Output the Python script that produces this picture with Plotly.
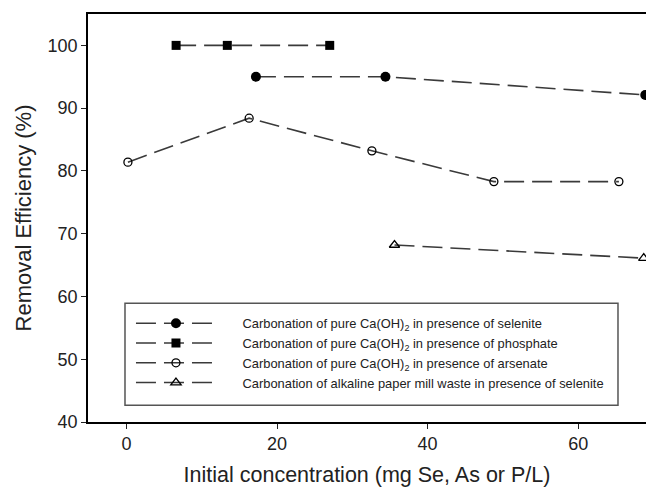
import plotly.graph_objects as go

# Data
selenite_x = [17.2, 34.4, 68.9]
selenite_y = [95.0, 95.0, 92.1]

phosphate_x = [6.6, 13.4, 27.0]
phosphate_y = [100.0, 100.0, 100.0]

arsenate_x = [0.2, 16.3, 32.6, 48.8, 65.4]
arsenate_y = [81.4, 88.4, 83.2, 78.3, 78.3]

mill_x = [35.6, 68.7]
mill_y = [68.2, 66.1]

names = [
    "Carbonation of pure Ca(OH)<sub>2</sub> in presence of selenite",
    "Carbonation of pure Ca(OH)<sub>2</sub> in presence of phosphate",
    "Carbonation of pure Ca(OH)<sub>2</sub> in presence of arsenate",
    "Carbonation of alkaline paper mill waste in presence of selenite",
]

x_ticks = [0, 20, 40, 60]
y_ticks = [40, 50, 60, 70, 80, 90, 100]

LINE_COLOR = "#3a3a3a"
DASH = "20px,8px"
PAD = "&nbsp;" * 6

fig = go.Figure()

series = [
    (selenite_x, selenite_y, dict(symbol="circle", size=10, color="black"), names[0]),
    (phosphate_x, phosphate_y, dict(symbol="square", size=9, color="black"), names[1]),
    (arsenate_x, arsenate_y, dict(symbol="circle-open", size=8, color="black", line=dict(width=1.3, color="black")), names[2]),
    (mill_x, mill_y, dict(symbol="triangle-up-open", size=9, color="black", line=dict(width=1.3, color="black")), names[3]),
]

for xs, ys, mk, nm in series:
    fig.add_trace(go.Scatter(
        x=xs, y=ys, mode="lines+markers", name=PAD + nm,
        line=dict(color=LINE_COLOR, width=1.6, dash=DASH),
        marker=mk,
    ))

# legend frame
fig.add_shape(type="rect", xref="paper", yref="paper",
              x0=0.0663, x1=0.9498, y0=0.041, y1=0.2911,
              line=dict(color="#555", width=1.5), fillcolor="rgba(0,0,0,0)")

fig.update_layout(
    width=646, height=487,
    margin=dict(l=88, r=0, t=14, b=65),
    paper_bgcolor="white", plot_bgcolor="white",
    font=dict(family="Liberation Sans, Arial, sans-serif", color="#222"),
    showlegend=True,
    legend=dict(
        x=0.077, y=0.2785, xanchor="left", yanchor="top",
        borderwidth=0,
        font=dict(size=12.9, color="#222"),
        itemwidth=80,
        bgcolor="rgba(0,0,0,0)",
    ),
    xaxis=dict(
        range=[-5.1, 69.0],
        tickvals=x_ticks, ticktext=[str(v) for v in x_ticks],
        ticks="outside", ticklen=5, tickwidth=1.3, tickcolor="#222",
        showline=True, linecolor="black", linewidth=1.5, mirror=True,
        showgrid=False, zeroline=False,
        tickfont=dict(size=18, color="#222"),
        title=dict(text="Initial concentration (mg Se, As or P/L)", font=dict(size=21.5, color="#222"), standoff=14),
    ),
    yaxis=dict(
        range=[40, 105],
        tickvals=y_ticks, ticktext=[str(v) for v in y_ticks],
        ticks="outside", ticklen=5, tickwidth=1.3, tickcolor="#222",
        showline=True, linecolor="black", linewidth=1.5,
        showgrid=False, zeroline=False,
        tickfont=dict(size=18, color="#222"),
        title=dict(text="Removal Efficiency (%)", font=dict(size=22, color="#222"), standoff=10),
    ),
)

fig.write_html("out.html")
